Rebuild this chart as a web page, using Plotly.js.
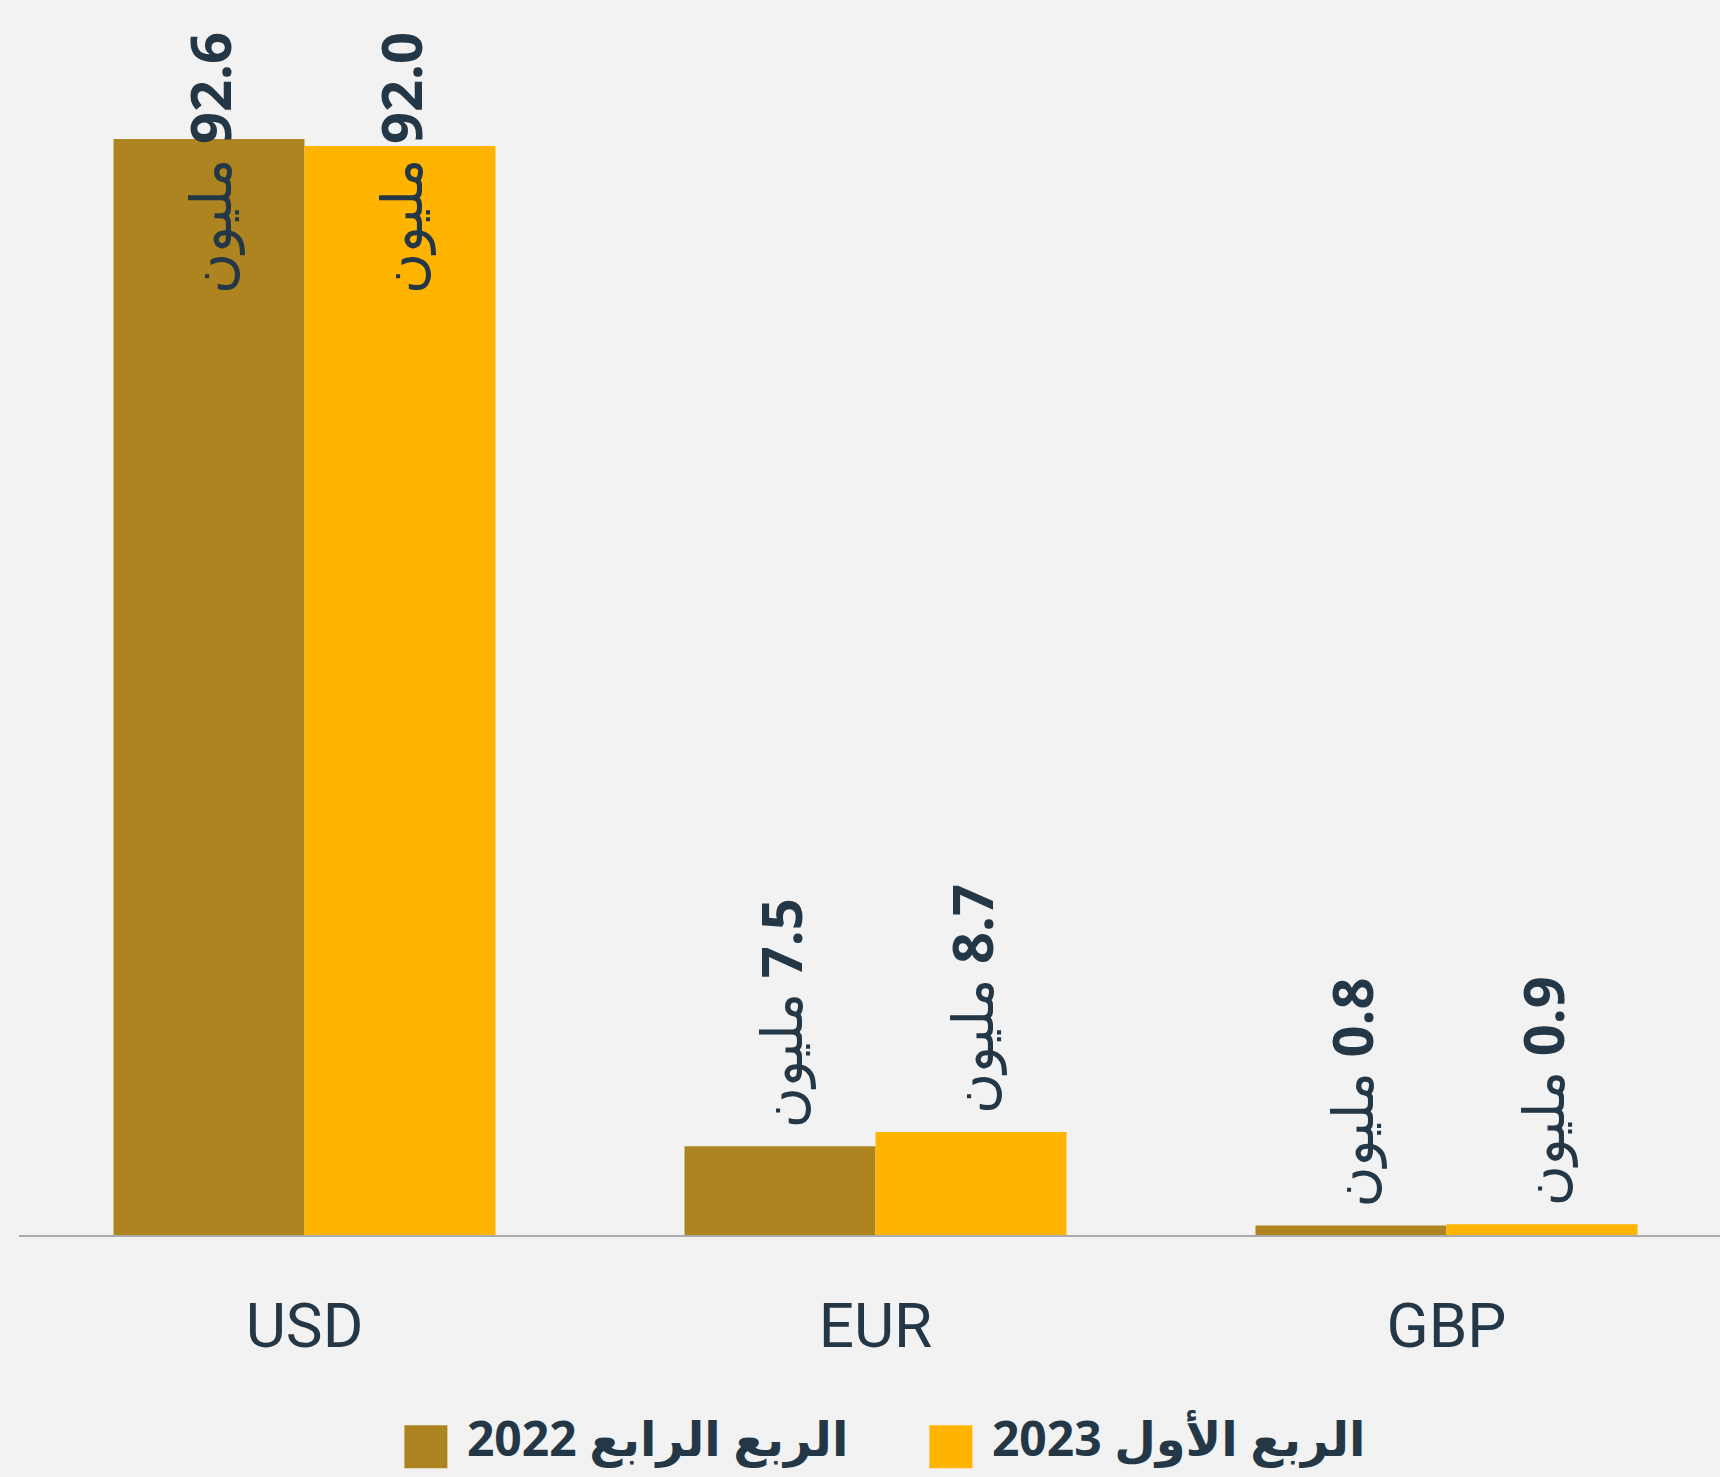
<!DOCTYPE html>
<html>
<head>
<meta charset="utf-8">
<script src="https://cdn.plot.ly/plotly-3.0.1.min.js"></script>
<style>
  html, body { margin: 0; padding: 0; background: #F2F2F2; }
  #chart { width: 1720px; height: 1477px; }
</style>
</head>
<body>
<div id="chart"></div>
<script>
// ---- data ----
const categories = ['USD', 'EUR', 'GBP'];
const q4_2022 = [92.6, 7.5, 0.8];
const q1_2023 = [92.0, 8.7, 0.9];
const seriesNames = ['الربع الرابع 2022', 'الربع الأول 2023'];
const unitLabel = 'مليون';

// ---- style ----
const colors = ['#AE8420', '#FFB500'];
const textColor = '#243746';
const bg = '#F2F2F2';
const bargap = 0.331;
const yMax = 101.8;

const seriesValues = [q4_2022, q1_2023];

const traces = seriesValues.map((vals, s) => ({
  type: 'bar',
  name: seriesNames[s],
  x: categories,
  y: vals,
  marker: { color: colors[s], line: { width: 0 } },
  hoverinfo: 'x+y+name'
}));

// value labels (rotated), built from the data arrays
const annotations = [];
const halfBar = (1 - bargap) / 2;
seriesValues.forEach((vals, s) => {
  vals.forEach((v, i) => {
    const xPos = i + (s - 0.5) * halfBar;
    const tall = v > yMax * 0.5;
    annotations.push({
      x: xPos,
      xref: 'x',
      y: tall ? 1 : v,
      yref: tall ? 'paper' : 'y',
      yanchor: tall ? 'top' : 'bottom',
      xanchor: 'center',
      yshift: tall ? 0 : 16,
      textangle: -90,
      showarrow: false,
      text: '<b>\u200F' + v.toFixed(1) + '</b> ' + unitLabel,
      font: { family: 'Open Sans, DejaVu Sans, sans-serif', size: 56, color: textColor }
    });
  });
});

const layout = {
  width: 1720,
  height: 1477,
  paper_bgcolor: bg,
  plot_bgcolor: bg,
  margin: { l: 19, r: 0, t: 30, b: 242 },
  barmode: 'group',
  bargap: bargap,
  bargroupgap: 0,
  showlegend: true,
  legend: {
    orientation: 'h',
    xref: 'container',
    yref: 'container',
    x: 0.529,
    xanchor: 'center',
    y: 0.027,
    yanchor: 'middle',
    font: { family: 'Open Sans, DejaVu Sans, sans-serif', size: 48, color: textColor, weight: 'bold' },
    itemwidth: 72,
    entrywidth: 438,
    traceorder: 'normal',
    bgcolor: 'rgba(0,0,0,0)'
  },
  xaxis: {
    type: 'category',
    range: [-0.5, 2.479],
    showline: true,
    linecolor: '#ABABAB',
    linewidth: 1.5,
    ticks: '',
    showgrid: false,
    zeroline: false,
    ticklabelstandoff: 36,
    tickfont: { family: 'Roboto, sans-serif', size: 62, color: textColor }
  },
  yaxis: {
    range: [0, yMax],
    showgrid: false,
    zeroline: false,
    showline: false,
    showticklabels: false,
    ticks: ''
  },
  annotations: annotations,
  font: { family: 'Open Sans, DejaVu Sans, sans-serif', color: textColor }
};

Plotly.newPlot('chart', traces, layout, { displayModeBar: false, staticPlot: true }).then(gd => {
  // enlarge legend swatches to match the reference's big squares
  gd.querySelectorAll('.legend .legendpoints path').forEach(p => {
    p.setAttribute('d', 'M21.5,31.5H-21.5V-11.5H21.5Z');
  });
});
</script>
</body>
</html>
